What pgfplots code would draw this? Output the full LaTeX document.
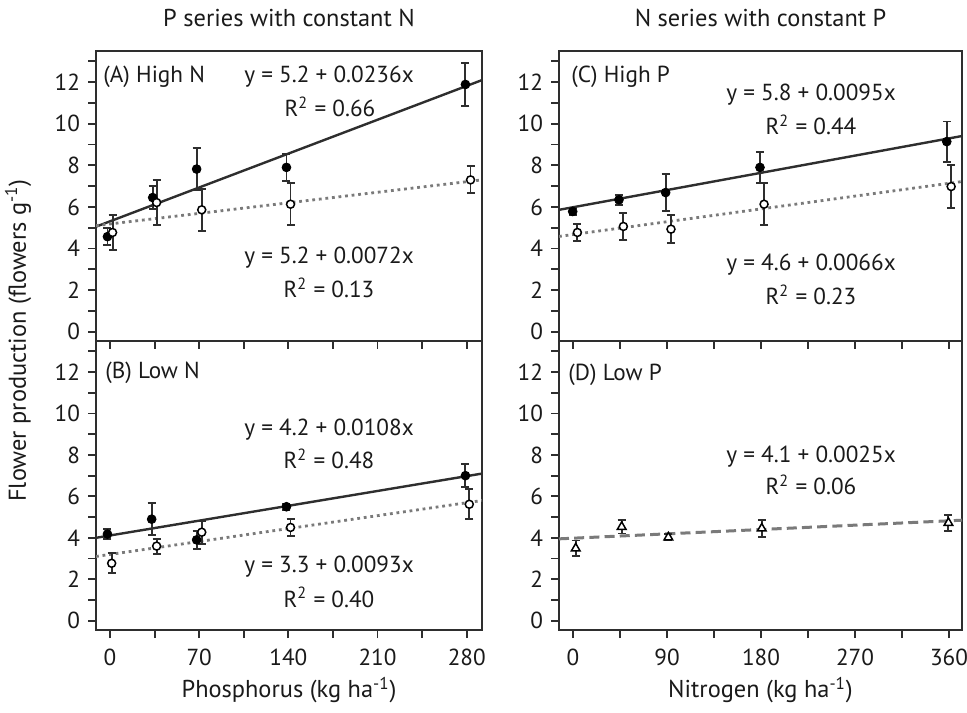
\documentclass[border=0pt]{standalone}
\usepackage{fontspec}
\setmainfont{PT Sans}
\usepackage{pgfplots}
\usepackage{pgfplotstable}
\pgfplotsset{compat=1.18}
\definecolor{axc}{HTML}{2E2E2E}
\definecolor{dotc}{HTML}{7A7A7A}
\definecolor{txt}{HTML}{1A1A1A}
\newcommand{\fs}{\fontsize{11.6}{13}\selectfont}
\newcommand{\fl}{\fontsize{12.2}{14}\selectfont}
\newcommand{\Rsq}{R\textsuperscript{2}}

\pgfplotstableread{
x y e
-2 4.57 0.4
33.5 6.45 0.55
68 7.82 1.0
138.5 7.9 0.65
279 11.89 1.05
}\Afill
\pgfplotstableread{
x y e
2 4.77 0.85
36.6 6.21 1.1
72 5.86 1.0
141.7 6.13 1.0
283 7.3 0.65
}\Aopen
\pgfplotstableread{
x y e
-2 4.18 0.25
32.7 4.9 0.76
68 3.9 0.44
138.5 5.5 0.15
279 7.0 0.55
}\Bfill
\pgfplotstableread{
x y e
1.3 2.77 0.48
36.6 3.6 0.36
72 4.27 0.56
141.7 4.5 0.4
282 5.62 0.72
}\Bopen
\pgfplotstableread{
x y e
-0.3 5.78 0.15
44 6.34 0.25
88.7 6.69 0.88
179 7.9 0.73
357.8 9.14 0.97
}\Cfill
\pgfplotstableread{
x y e
4.2 4.77 0.4
48.2 5.06 0.64
93.8 4.93 0.68
182.9 6.13 1.0
362 6.98 1.05
}\Copen
\pgfplotstableread{
x y e
2.6 3.49 0.38
46.6 4.53 0.32
91.3 4.02 0.15
180.7 4.45 0.43
359.4 4.72 0.4
}\Dtri

\pgfplotsset{
 panel/.style={
  scale only axis, anchor=south west,
  ymin=-0.45, ymax=13.5,
  ytick={0,2,...,12}, minor ytick={1,3,...,13},
  tick align=outside, major tick length=4pt, minor tick length=4pt,
  axis line style={axc, line width=1.1pt},
  tick style={axc, line width=0.9pt},
  tick label style={font=\fs, text=txt, /pgf/number format/assume math mode=true},
  xtick pos=bottom, ytick pos=left,
  yticklabel style={xshift=-0.5pt},
  xticklabel style={yshift=-2pt},
 },
 leftx/.style={xmin=-11, xmax=292, xtick={0,70,...,280}, minor xtick={35,105,175,245}, width=193pt},
 rightx/.style={xmin=-13.4, xmax=372.4, xtick={0,90,...,360}, minor xtick={45,135,225,315}, width=201.5pt},
 fillpts/.style={only marks, mark=*, mark size=2.2pt, mark options={fill=black, draw=black},
   error bars/.cd, y dir=both, y explicit, error bar style={axc, line width=0.95pt},
   error mark options={rotate=90, mark size=2pt, line width=0.95pt, axc}},
 openpts/.style={only marks, mark=*, mark size=2pt, mark options={fill=white, draw=black, line width=0.75pt},
   error bars/.cd, y dir=both, y explicit, error bar style={axc, line width=0.95pt},
   error mark options={rotate=90, mark size=2pt, line width=0.95pt, axc}},
 tripts/.style={only marks, mark=triangle*, mark size=2.5pt, mark options={fill=white, draw=black, line width=0.75pt},
   error bars/.cd, y dir=both, y explicit, error bar style={axc, line width=0.95pt},
   error mark options={rotate=90, mark size=2pt, line width=0.95pt, axc}},
 solidfit/.style={axc, line width=1.2pt, no marks},
 dotfit/.style={dotc, line width=1.4pt, dash pattern=on 1.4pt off 1.9pt, no marks},
 dashfit/.style={dotc, line width=1.5pt, dash pattern=on 5pt off 2.6pt, no marks},
}

\begin{document}
\begin{tikzpicture}
\path[use as bounding box] (0,0) rectangle (483.5pt,356pt);

% (A)
\begin{axis}[panel, leftx, at={(48pt,185.5pt)}, height=145pt, xticklabels={}]
\addplot[solidfit] coordinates {(-11,5.05) (292,12.1)};
\addplot[dotfit] coordinates {(-11,5.1) (292,7.3)};
\addplot[fillpts] table[x=x,y=y,y error=e]{\Afill};
\addplot[openpts] table[x=x,y=y,y error=e]{\Aopen};
\end{axis}

% (B)
\begin{axis}[panel, leftx, at={(48pt,41pt)}, height=144.5pt]
\addplot[solidfit] coordinates {(-11,4.0) (292,7.1)};
\addplot[dotfit] coordinates {(-11,3.1) (292,5.8)};
\addplot[fillpts] table[x=x,y=y,y error=e]{\Bfill};
\addplot[openpts] table[x=x,y=y,y error=e]{\Bopen};
\end{axis}

% (C)
\begin{axis}[panel, rightx, at={(279.5pt,185.5pt)}, height=145pt, xticklabels={}]
\addplot[solidfit] coordinates {(-13.4,5.86) (372.4,9.41)};
\addplot[dotfit] coordinates {(-13.4,4.58) (372.4,7.22)};
\addplot[fillpts] table[x=x,y=y,y error=e]{\Cfill};
\addplot[openpts] table[x=x,y=y,y error=e]{\Copen};
\end{axis}

% (D)
\begin{axis}[panel, rightx, at={(279.5pt,41pt)}, height=144.5pt]
\addplot[dashfit] coordinates {(-13.4,3.95) (372.4,4.85)};
\addplot[tripts] table[x=x,y=y,y error=e]{\Dtri};
\end{axis}

\begin{scope}[every node/.style={font=\fs, text=txt, inner sep=0pt}]
\node[font=\fl] at (144.5pt,347pt) {P series with constant N};
\node[font=\fl] at (380.25pt,347pt) {N series with constant P};
\node[font=\fl] at (144.5pt,11pt) {Phosphorus (kg ha\textsuperscript{-1})};
\node[font=\fl] at (380.25pt,11pt) {Nitrogen (kg ha\textsuperscript{-1})};
\node[font=\fl, rotate=90] at (9pt,185.75pt) {Flower production (flowers g\textsuperscript{-1})};

\node[anchor=west] at (51.5pt,317.6pt) {(A) High N};
\node at (164.5pt,317.6pt) {y = 5.2 + 0.0236x};
\node at (165pt,302.6pt) {\Rsq{} = 0.66};
\node at (164.5pt,227pt) {y = 5.2 + 0.0072x};
\node at (164.5pt,212pt) {\Rsq{} = 0.13};

\node[anchor=west] at (52.5pt,169.5pt) {(B) Low N};
\node at (164.5pt,141pt) {y = 4.2 + 0.0108x};
\node at (164.5pt,126.5pt) {\Rsq{} = 0.48};
\node at (164.5pt,72.5pt) {y = 3.3 + 0.0093x};
\node at (164.5pt,57.5pt) {\Rsq{} = 0.40};

\node[anchor=west] at (285.5pt,317.5pt) {(C) High P};
\node at (405.5pt,308.5pt) {y = 5.8 + 0.0095x};
\node at (405.5pt,293.5pt) {\Rsq{} = 0.44};
\node at (405.5pt,223.5pt) {y = 4.6 + 0.0066x};
\node at (405.5pt,208.5pt) {\Rsq{} = 0.23};

\node[anchor=west] at (284pt,168.5pt) {(D) Low P};
\node at (405.5pt,127.5pt) {y = 4.1 + 0.0025x};
\node at (405.5pt,113.5pt) {\Rsq{} = 0.06};
\end{scope}
\end{tikzpicture}
\end{document}
